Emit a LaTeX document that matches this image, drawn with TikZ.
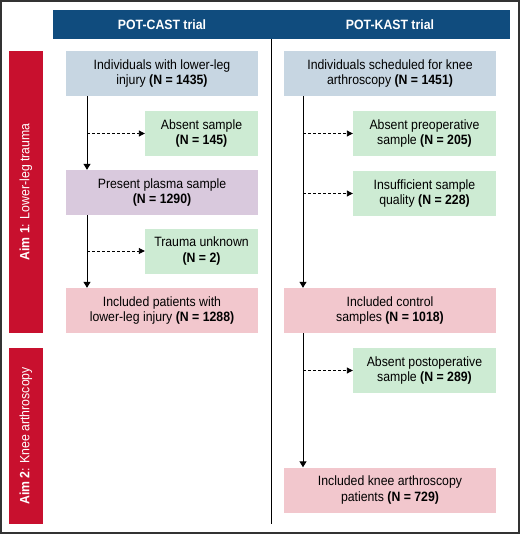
\documentclass[tikz,border=0pt]{standalone}
\usepackage{fontspec}
\setmainfont[FakeStretch=0.91]{Liberation Sans}
\usetikzlibrary{arrows.meta}
\definecolor{hdrblue}{RGB}{16,76,126}
\definecolor{aimred}{RGB}{200,16,46}
\definecolor{boxblue}{RGB}{199,214,226}
\definecolor{boxgreen}{RGB}{205,235,211}
\definecolor{boxpurple}{RGB}{217,201,221}
\definecolor{boxpink}{RGB}{242,199,205}
\begin{document}
\begin{tikzpicture}[x=1pt, y=-1pt,
		every node/.style={font=\fontsize{13.5}{15.4}\selectfont, align=center, inner sep=0pt},
		wide/.style={minimum height=45pt, minimum width=192pt},
		narrow/.style={minimum height=45pt, minimum width=113pt, fill=boxgreen},
		rwide/.style={minimum height=45pt, minimum width=212pt},
		rnarrow/.style={minimum height=45pt, minimum width=143pt, fill=boxgreen},
		flow/.style={line width=1pt, -{Triangle[width=7pt,length=6pt]}},
		skip/.style={line width=0.9pt, dash pattern=on 3pt off 2pt, -{Triangle[width=6pt,length=6pt]}}]
			\useasboundingbox (0,0) rectangle (520,534);
			\draw[line width=1.2pt, black!80] (1,1) rectangle (519,533);

			% headers
			\fill[hdrblue] (53,10) rectangle (510,39);
			\node[text=white, font=\fontsize{13.5}{15.4}\selectfont\bfseries] (hcast) at (162,24.5) {POT-CAST trial};
			\node[text=white, font=\fontsize{13.5}{15.4}\selectfont\bfseries] (hkast) at (390,24.5) {POT-KAST trial};
			\draw[line width=1pt] (271,39) -- (271,524);

			% aims
			\fill[aimred] (9,51) rectangle (43,333);
			\fill[aimred] (9,348) rectangle (43,524);
			\node[text=white, rotate=90] (aim1) at (26,192) {\textbf{Aim 1}: Lower-leg trauma};
			\node[text=white, rotate=90] (aim2) at (26,436) {\textbf{Aim 2}: Knee arthroscopy};

			% POT-CAST
			\node[wide, fill=boxblue] (l1) at (162,73.5) {Individuals with lower-leg\\injury \textbf{(N = 1435)}};
			\node[narrow] (l2) at (201.5,133.5) {Absent sample\\\textbf{(N = 145)}};
			\node[wide, fill=boxpurple] (l3) at (162,192.5) {Present plasma sample\\\textbf{(N = 1290)}};
			\node[narrow] (l4) at (201.5,251) {Trauma unknown\\\textbf{(N = 2)}};
			\node[wide, fill=boxpink] (l5) at (162,310.5) {Included patients with\\lower-leg injury \textbf{(N = 1288)}};

			% POT-KAST
			\node[rwide, fill=boxblue] (r1) at (390,73.5) {Individuals scheduled for knee\\arthroscopy \textbf{(N = 1451)}};
			\node[rnarrow] (r2) at (424.5,133.5) {Absent preoperative\\sample \textbf{(N = 205)}};
			\node[rnarrow] (r3) at (424.5,193.5) {Insufficient sample\\quality \textbf{(N = 228)}};
			\node[rwide, fill=boxpink] (r4) at (390,310.5) {Included control\\samples \textbf{(N = 1018)}};
			\node[rnarrow] (r5) at (424.5,370.5) {Absent postoperative\\sample \textbf{(N = 289)}};
			\node[rwide, fill=boxpink] (r6) at (390,490) {Included knee arthroscopy\\patients \textbf{(N = 729)}};

			\coordinate (tl) at (87,0);
			\coordinate (tr) at (303,0);

			\draw[flow] (l1.south -| tl) -- (l3.north -| tl);
			\draw[flow] (l3.south -| tl) -- (l5.north -| tl);
			\draw[skip] (l2.west -| tl) -- (l2.west);
			\draw[skip] (l4.west -| tl) -- (l4.west);

			\draw[flow] (r1.south -| tr) -- (r4.north -| tr);
			\draw[flow] (r4.south -| tr) -- (r6.north -| tr);
			\draw[skip] (r2.west -| tr) -- (r2.west);
			\draw[skip] (r3.west -| tr) -- (r3.west);
			\draw[skip] (r5.west -| tr) -- (r5.west);
		\end{tikzpicture}
\end{document}
